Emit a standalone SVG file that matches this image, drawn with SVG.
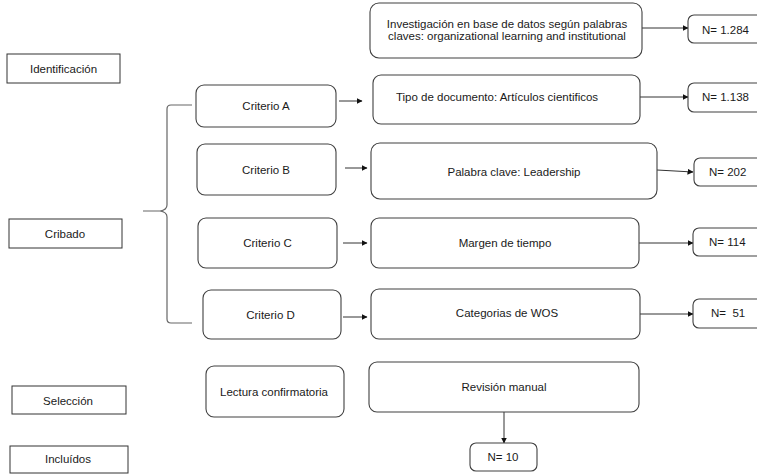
<svg xmlns="http://www.w3.org/2000/svg" width="757" height="474" viewBox="0 0 757 474">
<style>
text{font-family:"Liberation Sans",Arial,sans-serif;font-size:11.5px;fill:#1a1a1a;text-anchor:middle}
.s{text-anchor:start;white-space:pre}
.st{fill:#fff;stroke:#333;stroke-width:1}
.rd{fill:#fff;stroke:#404040;stroke-width:1.1}
.c{fill:none;stroke:#333;stroke-width:1}
.br{fill:none;stroke:#666;stroke-width:1.2}
</style>
<defs>
<marker id="ah" markerWidth="6" markerHeight="6" refX="5.5" refY="3" orient="auto" markerUnits="userSpaceOnUse">
<path d="M0,0 L6,3 L0,6 Z" fill="#111"/>
</marker>
</defs>
<rect width="757" height="474" fill="#fff"/>

<g id="stages">
<g id="identificacion"><rect class="st" x="7" y="54" width="113" height="29"/><text x="63.5" y="72.5">Identificación</text></g>
<g id="cribado"><rect class="st" x="9" y="219" width="113" height="29"/><text x="65" y="237.5">Cribado</text></g>
<g id="seleccion"><rect class="st" x="12" y="386" width="114" height="28"/><text x="68" y="404.5">Selección</text></g>
<g id="incluidos"><rect class="st" x="10" y="446" width="118" height="27"/><text x="68" y="463">Incluídos</text></g>
</g>

<g id="connectors">
<path class="br" d="M192,105 L171,105 Q167,105 167,109 L167,205 Q167,210 160,211 L143,211 M160,211 Q167,212 167,217 L167,319 Q167,323 171,323 L192,323"/>
<line class="c" x1="339" y1="101" x2="362" y2="101" marker-end="url(#ah)"/>
<line class="c" x1="345" y1="168" x2="367" y2="168" marker-end="url(#ah)"/>
<line class="c" x1="343" y1="243" x2="367" y2="243" marker-end="url(#ah)"/>
<line class="c" x1="343" y1="317" x2="367" y2="317" marker-end="url(#ah)"/>
<line class="c" x1="642" y1="28" x2="688" y2="28" marker-end="url(#ah)"/>
<line class="c" x1="640" y1="97" x2="688" y2="97" marker-end="url(#ah)"/>
<line class="c" x1="657" y1="170" x2="693" y2="172" marker-end="url(#ah)"/>
<line class="c" x1="639" y1="243" x2="693" y2="243" marker-end="url(#ah)"/>
<line class="c" x1="640" y1="314" x2="693" y2="314" marker-end="url(#ah)"/>
<line class="c" x1="504" y1="412" x2="504" y2="443" marker-end="url(#ah)"/>
</g>

<g id="criterio-a"><rect class="rd" x="196" y="85" width="140" height="42" rx="8"/><text x="266" y="110">Criterio A</text></g>
<g id="criterio-b"><rect class="rd" x="197" y="144" width="139" height="51" rx="8"/><text x="266" y="174">Criterio B</text></g>
<g id="criterio-c"><rect class="rd" x="198" y="218" width="139" height="50" rx="8"/><text x="267.5" y="247">Criterio C</text></g>
<g id="criterio-d"><rect class="rd" x="203" y="290" width="138" height="49" rx="8"/><text x="270.5" y="319">Criterio D</text></g>
<g id="lectura"><rect class="rd" x="206" y="366" width="138" height="51" rx="8"/><text x="274" y="396">Lectura confirmatoria</text></g>

<g id="investigacion"><rect class="rd" x="370" y="3" width="272" height="55" rx="9"/><text x="507" y="28">Investigación en base de datos según palabras</text><text x="507" y="39.5">claves: organizational learning and institutional</text></g>
<g id="tipo"><rect class="rd" x="373" y="75" width="267" height="49" rx="8"/><text x="497" y="101">Tipo de documento: Artículos cientificos</text></g>
<g id="palabra"><rect class="rd" x="371" y="143" width="286" height="56" rx="9"/><text x="514" y="176">Palabra clave: Leadership</text></g>
<g id="margen"><rect class="rd" x="371" y="218" width="268" height="50" rx="8"/><text x="505" y="247">Margen de tiempo</text></g>
<g id="categorias"><rect class="rd" x="371" y="289" width="269" height="50" rx="8"/><text x="507" y="317">Categorias de WOS</text></g>
<g id="revision"><rect class="rd" x="369" y="362" width="270" height="50" rx="8"/><text x="504" y="391">Revisión manual</text></g>

<g id="n1284"><rect class="rd" x="688" y="15" width="75" height="28" rx="6"/><text class="s" x="702" y="33.5">N= 1.284</text></g>
<g id="n1138"><rect class="rd" x="688" y="83" width="75" height="29" rx="6"/><text class="s" x="702" y="101">N= 1.138</text></g>
<g id="n202"><rect class="rd" x="694" y="158" width="70" height="28" rx="6"/><text class="s" x="709" y="176">N= 202</text></g>
<g id="n114"><rect class="rd" x="693" y="228" width="70" height="28" rx="6"/><text class="s" x="709" y="246">N= 114</text></g>
<g id="n51"><rect class="rd" x="693" y="299" width="70" height="29" rx="6"/><text class="s" x="711" y="317">N=  51</text></g>
<g id="n10"><rect class="rd" x="470" y="443" width="67" height="28" rx="6"/><text x="503" y="461">N= 10</text></g>
</svg>
